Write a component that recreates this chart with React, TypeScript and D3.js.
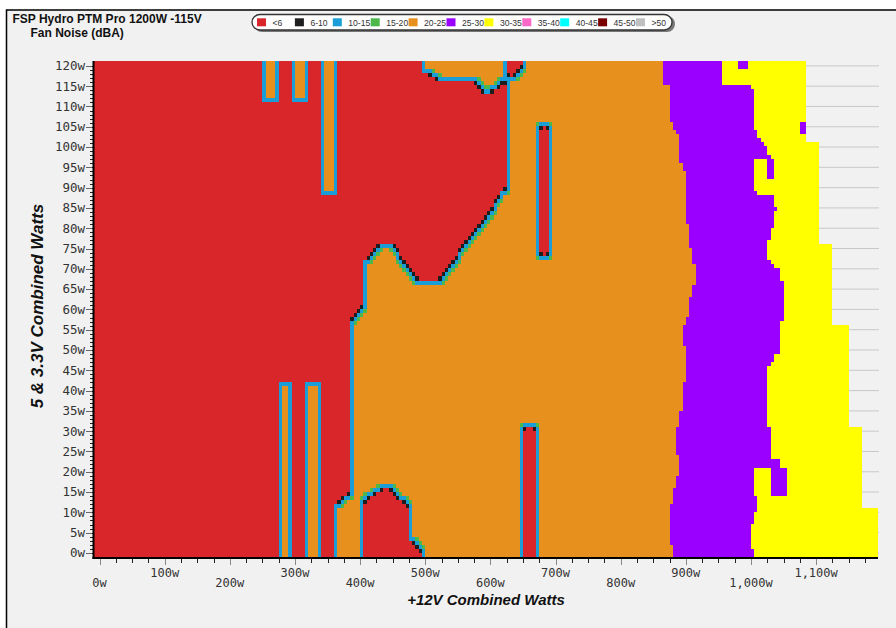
import React, { useMemo } from 'react';
import * as d3 from 'd3';

type Pt = [number, number];

// ---- chart text ----
const titleLines = ['FSP Hydro PTM Pro 1200W -115V', 'Fan Noise (dBA)'];
const xTitle = '+12V Combined Watts';
const yTitle = '5 & 3.3V Combined Watts';

// ---- legend (noise bands, dBA) ----
const legendBands = ['<6', '6-10', '10-15', '15-20', '20-25', '25-30', '30-35', '35-40', '40-45', '45-50', '>50'];
const legendColors = ['#d8262b', '#1e1e1e', '#1b9ed8', '#4cb84c', '#e8901e', '#9900ff', '#ffff00', '#ff69c8', '#00ffff', '#7a0000', '#c0c0c0'];

// ---- axis ticks (W) ----
const xTicks = d3.range(0, 1101, 100);
const xMinorTicks = d3.range(0, 1176, 25);
const yTicks = d3.range(0, 121, 5);
const yMinorTicks = d3.range(0, 121, 1);

// ---- measured noise map, points are [+12V W, 5V&3.3V W] ----
// passive (<6 dBA) operating zone
const quietZone: Pt[] = [
  [-10, 122], [494, 122], [494, 119], [507, 117.8], [515, 117], [523, 116.4],
  [571, 116.4], [583, 115.3], [592, 113.6], [600, 113.6], [614, 115.3], [624, 116.6],
  [624, 89.5], [617, 88.6], [609, 86.9], [601, 84.0], [594, 82.8], [578, 79.5],
  [571, 77.9], [555.5, 74.6], [550.5, 73.1], [532.5, 69.2], [527.5, 68.0], [524.5, 67.4],
  [484, 67.4], [482, 68], [477, 69.2], [461, 72.9], [453.5, 74.6], [446, 76.5],
  [434, 76.5], [423, 74.6], [418, 73.1], [404, 71.6], [404, 59.8], [399, 59.3],
  [386, 56.5], [386, 14.1], [379, 14.1], [374, 12.9], [361, 12.1], [361, -2], [-10, -2],
];
// loads inside the passive zone where the fan still spun up (20-25 dBA)
const quietGaps: Pt[][] = [
  [[251, 110.9], [276, 110.9], [276, 122], [251, 122]],
  [[294, 110.9], [320, 110.9], [320, 122], [294, 122]],
  [[338.5, 87.7], [364.5, 87.7], [364.5, 122], [338.5, 122]],
  [[273, -2], [297, -2], [297, 42], [273, 42]],
  [[315.5, -2], [340.5, -2], [340.5, 42], [315.5, 42]],
];
// passive islands inside the 20-25 dBA zone
const quietIslands: Pt[][] = [
  [[627, 122], [627, 117.3], [637, 117.3], [643, 118.2], [648, 119], [648, 122]],
  [[673, 105], [690, 105], [690, 73.3], [673, 73.3]],
  [[651, -2], [651, 31.5], [668, 31.5], [668, -2]],
  [[407, -2], [407, 12.9], [413, 13.6], [423, 14.8], [431, 15.9], [447, 15.9], [455, 14.6],
   [464, 13.3], [474, 12.1], [474, 3.7], [483, 2.9], [488, 1.7], [493, 0.5], [495, -2]],
];
// [upper 5V&3.3V bound, +12V W where 25-30 dBA begins]
const purpleFrom: Pt[] = [
  [121.25, 866], [115.6, 873], [106, 878], [104.6, 883], [103, 890], [96, 893], [94.3, 899],
  [81.6, 905], [75.1, 910], [71.3, 916], [65.9, 910], [63.5, 905], [58.5, 899], [56, 893],
  [51.5, 899], [42, 893], [35.1, 890], [31, 884], [24, 890], [18.6, 883], [15.7, 878],
  [12, 873], [2.1, 878],
];
// [upper 5V&3.3V bound, +12V W where 30-35 dBA begins]
const yellowFrom: Pt[] = [
  [121.25, 955], [115.5, 998.4], [114.5, 1004.4], [103.8, 1010.3], [102.6, 1016.4],
  [101.2, 1021.3], [100.1, 1026.3], [98.0, 1031.3], [97.6, 1036.3], [92.3, 1004.4],
  [89.0, 1010.3], [87.7, 1036.3], [84.9, 1041.2], [83.7, 1036.3], [80.0, 1031.3],
  [77.5, 1026.3], [72.6, 1031.3], [71.3, 1036.3], [70.1, 1043.3], [67.6, 1048.2],
  [57.3, 1043.3], [48.6, 1036.3], [47.0, 1031.3], [45.7, 1026.3], [31.0, 1031.3],
  [29.7, 1032.3], [23.5, 1043.3], [21.0, 1054.2], [13.9, 1010.3], [9.8, 1004.4],
  [7.3, 999.4], [1.5, 1004.4],
];
const yellowPatches: Pt[][] = [
  [[1004.4, 96.8], [1023.3, 96.8], [1023.3, 92.3], [1004.4, 92.3]],
  [[1004.4, 21.0], [1029.3, 21.0], [1029.3, 14.5], [1004.4, 14.5]],
];
const purplePatches: Pt[][] = [
  [[979.5, 122], [993.5, 122], [993.5, 119], [979.5, 119]],
  [[1075, 106.2], [1084, 106.2], [1084, 103.2], [1075, 103.2]],
];
// [upper 5V&3.3V bound, highest tested +12V W]
const loadLimit: Pt[] = [
  [121.25, 1084], [101, 1106], [76.1, 1127], [56, 1150], [30.9, 1172], [10.9, 1195],
];

// ---- layout ----
const X_DOMAIN: [number, number] = [-10, 1195];
const Y_DOMAIN: [number, number] = [-1, 121.2];
const PLOT = { left: 93, right: 878, top: 61, bottom: 557 };
const COL_W = 5;
const ROWS = 122;

const RED = 0, BLACK = 1, BLUE = 2, GREEN = 3, ORANGE = 4, PURPLE = 5, YELLOW = 6, NONE = 255;

function stepLookup(steps: Pt[], v: number) {
  let out = steps[0][1];
  for (const [top, val] of steps) {
    if (v <= top) out = val;
    else break;
  }
  return out;
}

const inAny = (polys: Pt[][], p: Pt) => polys.some((poly) => d3.polygonContains(poly, p));

function buildRaster() {
  const nx = Math.round((X_DOMAIN[1] - X_DOMAIN[0]) / COL_W);
  const ny = ROWS;
  const rowH = (Y_DOMAIN[1] - Y_DOMAIN[0]) / ny;
  const base = new Uint8Array(nx * ny);
  for (let j = 0; j < ny; j++) {
    const cy = Y_DOMAIN[1] - (j + 0.5) * rowH;
    const limit = stepLookup(loadLimit, cy);
    const pStart = stepLookup(purpleFrom, cy);
    const yStart = stepLookup(yellowFrom, cy);
    for (let i = 0; i < nx; i++) {
      const cx = X_DOMAIN[0] + (i + 0.5) * COL_W;
      const p: Pt = [cx, cy];
      let c = ORANGE;
      if (cx > limit) c = NONE;
      else {
        if (cx >= pStart) c = PURPLE;
        if (cx >= yStart) c = YELLOW;
        if (inAny(yellowPatches, p)) c = YELLOW;
        if (inAny(purplePatches, p)) c = PURPLE;
        if ((d3.polygonContains(quietZone, p) && !inAny(quietGaps, p)) || inAny(quietIslands, p)) c = RED;
      }
      base[j * nx + i] = c;
    }
  }
  // transition bands where the fan starts: 6-10 / 10-15 / 15-20 dBA
  const at = (i: number, j: number) => (i < 0 || j < 0 || i >= nx || j >= ny ? NONE : base[j * nx + i]);
  const out = new Uint8Array(base);
  for (let j = 0; j < ny; j++) {
    for (let i = 0; i < nx; i++) {
      const c = base[j * nx + i];
      if (c === ORANGE) {
        if (at(i - 1, j) === RED || at(i + 1, j) === RED || at(i, j - 1) === RED || at(i, j + 1) === RED) out[j * nx + i] = BLUE;
        else if (at(i - 1, j - 1) === RED || at(i + 1, j - 1) === RED || at(i - 1, j + 1) === RED || at(i + 1, j + 1) === RED) out[j * nx + i] = GREEN;
      } else if (c === RED) {
        const h = at(i - 1, j) === ORANGE || at(i + 1, j) === ORANGE;
        const v = at(i, j - 1) === ORANGE || at(i, j + 1) === ORANGE;
        if (h && v) out[j * nx + i] = BLACK;
      }
    }
  }
  // merge horizontal runs of equal colour
  const runs: { i0: number; i1: number; j: number; c: number }[] = [];
  for (let j = 0; j < ny; j++) {
    let i0 = 0;
    for (let i = 1; i <= nx; i++) {
      const prev = out[j * nx + i - 1];
      if (i === nx || out[j * nx + i] !== prev) {
        if (prev !== NONE) runs.push({ i0, i1: i, j, c: prev });
        i0 = i;
      }
    }
  }
  return { runs, rowH };
}

export default function App() {
  const x = d3.scaleLinear().domain(X_DOMAIN).range([PLOT.left, PLOT.right]);
  const y = d3.scaleLinear().domain(Y_DOMAIN).range([PLOT.bottom, PLOT.top]);
  const { runs, rowH } = useMemo(buildRaster, []);
  const fmt = d3.format(',');

  const mono = "'DejaVu Sans Mono', monospace";
  const sans = "'Liberation Sans', Arial, sans-serif";

  return (
    <svg width={896} height={628} style={{ position: 'absolute', left: 0, top: 0 }} xmlns="http://www.w3.org/2000/svg">
      <rect x={0} y={0} width={896} height={628} fill="#ffffff" />
      <rect x={6.5} y={10} width={900} height={640} fill="#f1f1f1" stroke="#000" strokeWidth={1.5} />

      {/* title */}
      <text x={12.5} y={23} fontFamily={sans} fontWeight="bold" fontSize={12} fill="#111">{titleLines[0]}</text>
      <text x={30.5} y={37} fontFamily={sans} fontWeight="bold" fontSize={12} fill="#111">{titleLines[1]}</text>

      {/* legend */}
      <g>
        <rect x={254} y={16} width={421} height={16} rx={8} fill="#777" />
        <rect x={252} y={14.5} width={420} height={15.5} rx={8} fill="#fff" stroke="#333" strokeWidth={1.3} />
        {legendBands.map((b, k) => {
          const sx = 257 + k * 37.9;
          return (
            <g key={b}>
              <rect x={sx} y={18.3} width={9} height={8} fill={legendColors[k]} />
              <text x={sx + 15.5} y={25.6} fontFamily={sans} fontSize={8.6} fill="#333">{b}</text>
            </g>
          );
        })}
      </g>

      {/* horizontal grid */}
      {yTicks.map((t) => (
        <line key={`g${t}`} x1={PLOT.left} x2={PLOT.right + 1} y1={y(t)} y2={y(t)} stroke="#c8c8c8" strokeWidth={1} />
      ))}

      {/* noise map */}
      <g shapeRendering="crispEdges">
        {runs.map((r, k) => {
          const x0 = Math.round(x(X_DOMAIN[0] + r.i0 * COL_W));
          const x1 = Math.round(x(X_DOMAIN[0] + r.i1 * COL_W));
          const y0 = Math.round(y(Y_DOMAIN[1] - r.j * rowH));
          const y1 = Math.round(y(Y_DOMAIN[1] - (r.j + 1) * rowH));
          return <rect key={k} x={x0} y={y0} width={x1 - x0} height={y1 - y0} fill={legendColors[r.c]} />;
        })}
      </g>

      {/* y axis */}
      {yMinorTicks.map((t) => (
        <line key={`ym${t}`} x1={90} x2={93} y1={Math.round(y(t)) + 0.5} y2={Math.round(y(t)) + 0.5} stroke="#222" strokeWidth={1} />
      ))}
      {yTicks.map((t) => (
        <g key={`y${t}`}>
          <line x1={86} x2={92} y1={Math.round(y(t)) + 0.5} y2={Math.round(y(t)) + 0.5} stroke="#666" strokeWidth={1} />
          <text x={85} y={y(t)} dy="0.35em" textAnchor="end" fontFamily={mono} fontSize={12.5} fill="#333">{`${t}w`}</text>
        </g>
      ))}
      <line x1={93.5} x2={93.5} y1={PLOT.top} y2={PLOT.bottom + 2} stroke="#000" strokeWidth={2} />

      {/* x axis */}
      {xMinorTicks.map((t) => (
        <line key={`xm${t}`} x1={Math.round(x(t)) + 0.5} x2={Math.round(x(t)) + 0.5} y1={559} y2={563} stroke="#222" strokeWidth={1} />
      ))}
      {xTicks.map((t, k) => (
        <g key={`x${t}`}>
          <line x1={Math.round(x(t)) + 0.5} x2={Math.round(x(t)) + 0.5} y1={559} y2={565} stroke="#888" strokeWidth={1} />
          <text x={x(t)} y={k % 2 === 0 ? 587 : 577} textAnchor="middle" fontFamily={mono} fontSize={12} fill="#333">{`${fmt(t)}w`}</text>
        </g>
      ))}
      <line x1={92.5} x2={PLOT.right} y1={558} y2={558} stroke="#000" strokeWidth={2} />

      {/* axis titles */}
      <text x={486} y={605} textAnchor="middle" fontFamily={sans} fontWeight="bold" fontStyle="italic" fontSize={15} fill="#111">{xTitle}</text>
      <text transform="translate(43,306) rotate(-90)" textAnchor="middle" fontFamily={sans} fontWeight="bold" fontStyle="italic" fontSize={17} fill="#111">{yTitle}</text>
    </svg>
  );
}
